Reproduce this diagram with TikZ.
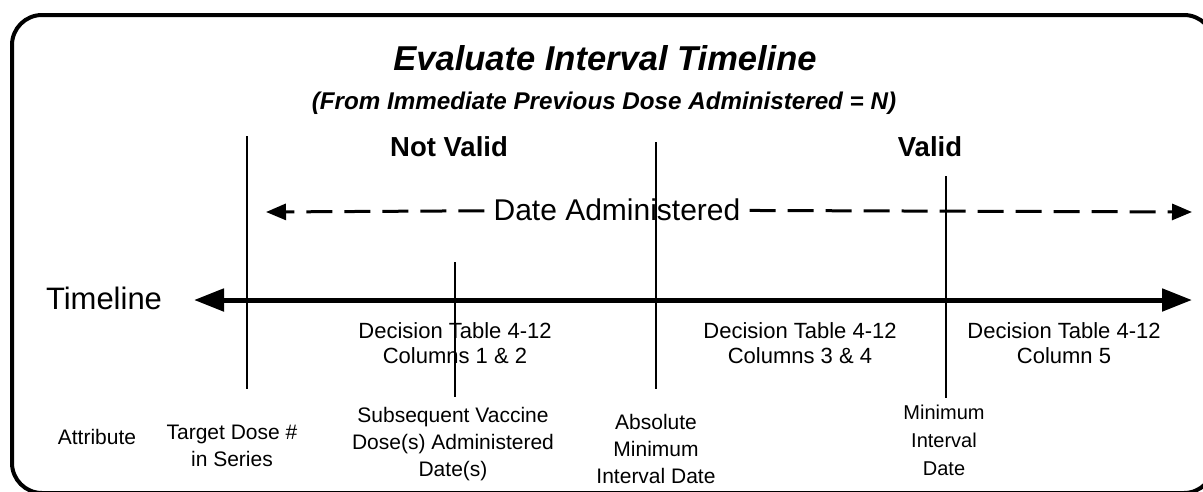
\documentclass[tikz,border=0pt]{standalone}
\usepackage{fontspec}
\setmainfont{Liberation Sans}
\usetikzlibrary{arrows.meta}
\tikzstyle{frame} = [line width=4pt, rounded corners=30pt]
\tikzstyle{heading} = [inner sep=0pt, font=\fontsize{34.5}{40}\selectfont\bfseries\itshape]
\tikzstyle{subheading} = [inner sep=0pt, font=\fontsize{24.2}{28}\selectfont\bfseries\itshape]
\tikzstyle{verdict} = [inner sep=0pt, font=\fontsize{27.5}{32}\selectfont\bfseries]
\tikzstyle{biglabel} = [inner sep=0pt, font=\fontsize{30}{34}\selectfont]
\tikzstyle{table} = [inner sep=0pt, align=center, font=\fontsize{22}{25}\selectfont]
\tikzstyle{attr} = [inner sep=0pt, align=center, font=\fontsize{21}{27}\selectfont]
\tikzstyle{marker} = [line width=2pt]
\tikzstyle{timearrow} = [line width=5pt, {Triangle[length=30pt,width=22pt]}-{Triangle[length=30pt,width=22pt]}]
\tikzstyle{datearrow} = [line width=3pt, dash pattern=on 26pt off 12pt, -{Triangle[length=20pt,width=16pt]}]

\begin{document}
\begin{tikzpicture}[x=1pt,y=-1pt]
    \useasboundingbox (0,0) rectangle (1203,491);
    \draw [frame] (12,15) rectangle (1214,493);

    % headings
    \node [heading] at (605,58) (title) {Evaluate Interval Timeline};
    \node [subheading] at (604,103) (subtitle) {(From Immediate Previous Dose Administered = N)};
    \node [verdict] at (449,147) (notvalid) {Not Valid};
    \node [verdict] at (930,147) (valid) {Valid};

    % date administered
    \coordinate (dateleft) at (266,212);
    \coordinate (dateright) at (1192,212);
    \node [biglabel, fill=white, inner xsep=9pt, inner ysep=4pt] at (617,210) (dateadm) {Date Administered};
    \draw [datearrow] (dateadm) -- (dateleft);
    \draw [datearrow] (dateadm) -- (dateright);

    % timeline
    \node [biglabel, font=\fontsize{31}{34}\selectfont] at (104,298) (timelabel) {Timeline};
    \coordinate (timeleft) at (194,300);
    \coordinate (timeright) at (1192,300);
    \draw [timearrow] (timeleft) -- (timeright);

    % decision tables
    \node [table] at (455,343) (table12) {Decision Table 4-12\\Columns 1 \& 2};
    \node [table] at (800,343) (table34) {Decision Table 4-12\\Columns 3 \& 4};
    \node [table] at (1064,343) (table5) {Decision Table 4-12\\Column 5};

    % markers
    \coordinate (targettop) at (247,136);
    \coordinate (targetbot) at (247,389);
    \coordinate (subsqtop) at (455,262);
    \coordinate (subsqbot) at (455,397);
    \coordinate (absmintop) at (656,142);
    \coordinate (absminbot) at (656,389);
    \coordinate (mintop) at (946,176);
    \coordinate (minbot) at (946,398);
    \draw [marker] (targettop) -- (targetbot);
    \draw [marker] (subsqtop) -- (subsqbot);
    \draw [marker] (absmintop) -- (absminbot);
    \draw [marker] (mintop) -- (minbot);

    % attributes
    \node [attr] at (97,437) (attribute) {Attribute};
    \node [attr] at (232,446) (targetdose) {Target Dose \#\\in Series};
    \node [attr] at (453,444) (subsequent) {Subsequent Vaccine\\Dose(s) Administered\\Date(s)};
    \node [attr] at (656,449) (absmin) {Absolute\\Minimum\\Interval Date};
    \node [attr, font=\fontsize{20}{28}\selectfont] at (944,440) (mininterval) {Minimum\\Interval\\Date};
\end{tikzpicture}
\end{document}
